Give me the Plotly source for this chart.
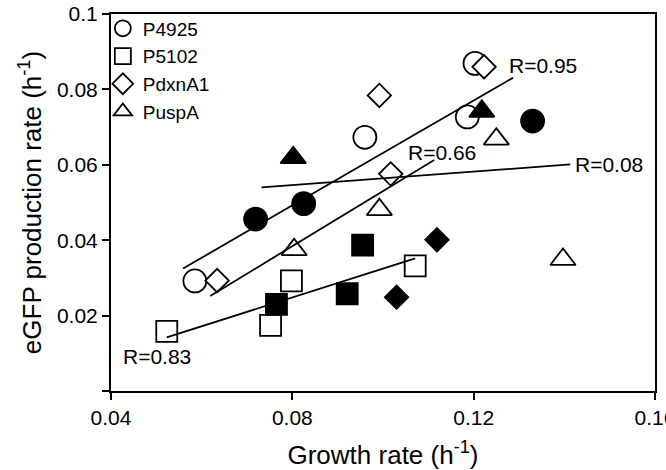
import plotly.graph_objects as go

# ---- data ----
# P4925 (circles)
p4925_open_x = [0.0585, 0.0960, 0.1186, 0.1203]
p4925_open_y = [0.0292, 0.0673, 0.0727, 0.0869]
p4925_fill_x = [0.0719, 0.0825, 0.1330]
p4925_fill_y = [0.0456, 0.0497, 0.0716]
# P5102 (squares)
p5102_open_x = [0.0523, 0.0752, 0.0798, 0.1071]
p5102_open_y = [0.0158, 0.0174, 0.0292, 0.0332]
p5102_fill_x = [0.0765, 0.0921, 0.0955]
p5102_fill_y = [0.0230, 0.0258, 0.0387]
# PdxnA1 (diamonds)
pdxn_open_x = [0.0634, 0.0992, 0.1017, 0.1223]
pdxn_open_y = [0.0293, 0.0784, 0.0576, 0.0860]
pdxn_fill_x = [0.1030, 0.1119]
pdxn_fill_y = [0.0249, 0.0401]
# PuspA (triangles)
pusp_open_x = [0.0804, 0.0992, 0.1250, 0.1397]
pusp_open_y = [0.0375, 0.0481, 0.0668, 0.0349]
pusp_fill_x = [0.0802, 0.1218]
pusp_fill_y = [0.0619, 0.0742]

# fitted lines (end points)
fit_p4925_x = [0.0559, 0.1287]
fit_p4925_y = [0.0325, 0.0831]
fit_p5102_x = [0.0523, 0.1071]
fit_p5102_y = [0.0142, 0.0352]
fit_pdxn_x = [0.0619, 0.1113]
fit_pdxn_y = [0.0252, 0.0613]
fit_pusp_x = [0.0732, 0.1413]
fit_pusp_y = [0.0540, 0.0601]

# correlation labels
r_text = ["R=0.95", "R=0.83", "R=0.66", "R=0.08"]
r_x = [0.1273, 0.0423, 0.1051, 0.1419]
r_y = [0.0864, 0.0092, 0.0633, 0.0601]

series_names = ["P4925", "P5102", "PdxnA1", "PuspA"]
x_ticks = [0.04, 0.08, 0.12, 0.16]
x_tick_text = ["0.04", "0.08", "0.12", "0.16"]
y_ticks = [0, 0.02, 0.04, 0.06, 0.08, 0.1]
y_tick_text = ["", "0.02", "0.04", "0.06", "0.08", "0.1"]

FONT = "Liberation Sans, Arial, sans-serif"

fig = go.Figure()

groups = [
    (series_names[0], "circle", 23, p4925_open_x, p4925_open_y, p4925_fill_x, p4925_fill_y),
    (series_names[1], "square", 21, p5102_open_x, p5102_open_y, p5102_fill_x, p5102_fill_y),
    (series_names[2], "diamond", 18, pdxn_open_x, pdxn_open_y, pdxn_fill_x, pdxn_fill_y),
    (series_names[3], "triangle-up", 22, pusp_open_x, pusp_open_y, pusp_fill_x, pusp_fill_y),
]

for name, sym, size, ox, oy, fx, fy in groups:
    fig.add_trace(go.Scatter(
        x=ox, y=oy, mode="markers", name=name, showlegend=True,
        marker=dict(symbol=sym, size=size, color="white",
                    line=dict(color="black", width=1.8)),
    ))
    fig.add_trace(go.Scatter(
        x=fx, y=fy, mode="markers", name=name + " filled", showlegend=False,
        marker=dict(symbol=sym, size=size, color="black",
                    line=dict(color="black", width=1.8)),
    ))

for lx, ly in [(fit_p4925_x, fit_p4925_y), (fit_p5102_x, fit_p5102_y),
               (fit_pdxn_x, fit_pdxn_y), (fit_pusp_x, fit_pusp_y)]:
    fig.add_trace(go.Scatter(x=lx, y=ly, mode="lines", showlegend=False,
                             line=dict(color="black", width=1.8)))

for t, x, y in zip(r_text, r_x, r_y):
    fig.add_annotation(x=x, y=y, text=t, showarrow=False, xanchor="left",
                       yanchor="middle", font=dict(family=FONT, size=21, color="black"))

axis_common = dict(showgrid=False, zeroline=False, showline=True, linecolor="black",
                   linewidth=2, mirror=True, ticks="outside", ticklen=7, tickwidth=2,
                   tickcolor="black", tickfont=dict(family=FONT, size=21, color="black"))

fig.update_xaxes(range=[0.04, 0.16], tickvals=x_ticks, ticktext=x_tick_text,
                 ticklabeloverflow="allow",
                 title=dict(text="Growth rate (h<sup>-1</sup>)",
                            font=dict(family=FONT, size=26, color="black"), standoff=20),
                 **axis_common)
fig.update_yaxes(range=[0, 0.1], tickvals=y_ticks, ticktext=y_tick_text,
                 title=dict(text="eGFP production rate (h<sup>-1</sup>)",
                            font=dict(family=FONT, size=26, color="black"), standoff=8),
                 **axis_common)

fig.update_layout(
    width=666, height=470,
    margin=dict(l=111, r=11, t=14, b=79, autoexpand=False),
    plot_bgcolor="white", paper_bgcolor="white",
    font=dict(family=FONT, color="black"),
    legend=dict(x=-0.015, y=1.012, xanchor="left", yanchor="top",
                bgcolor="rgba(0,0,0,0)", font=dict(family=FONT, size=19),
                itemsizing="trace", tracegroupgap=0),
)

fig.write_html("out.html", config={"displayModeBar": False},
               post_script="document.body.style.margin='0px';")
